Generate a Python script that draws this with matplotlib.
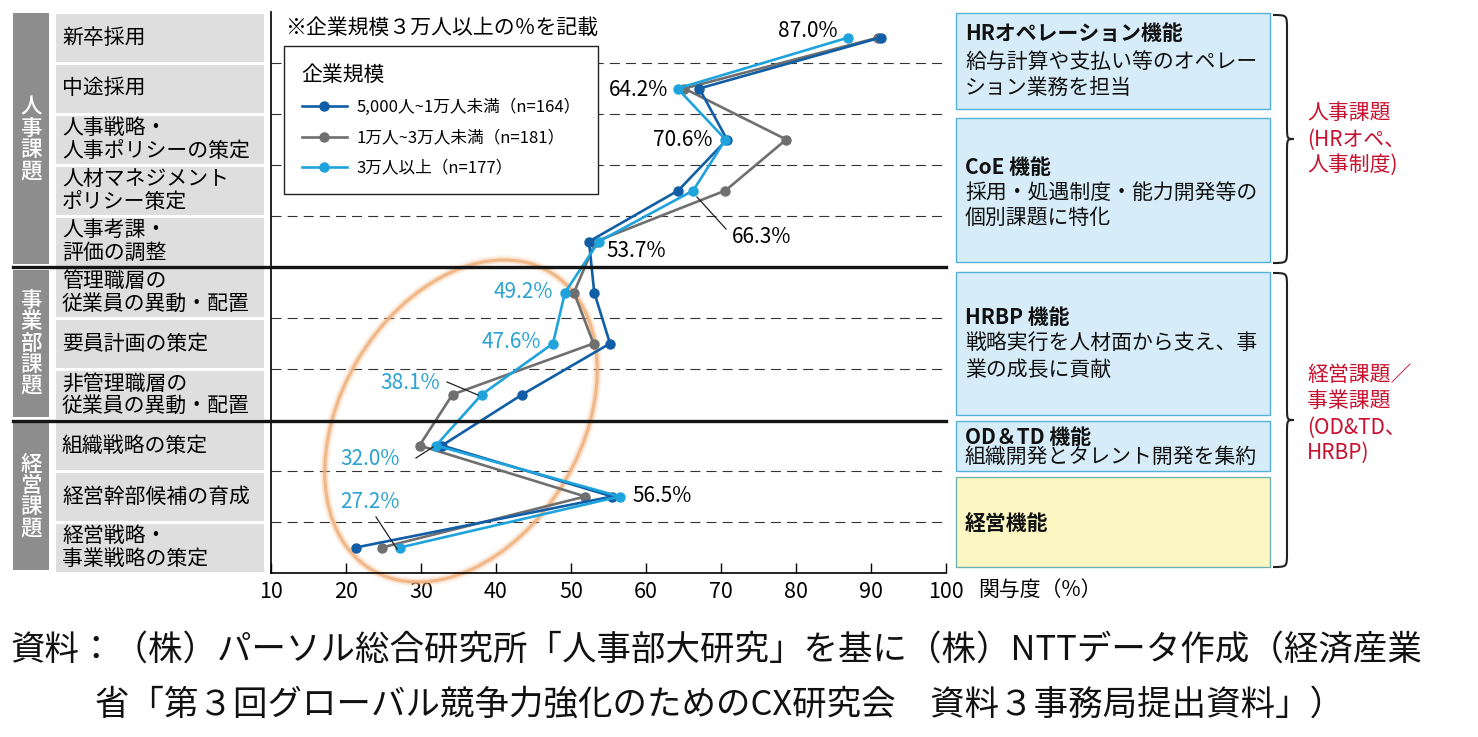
import matplotlib.pyplot as plt
from matplotlib.patches import Rectangle, Ellipse, PathPatch
from matplotlib.path import Path
from matplotlib.lines import Line2D
from matplotlib.transforms import Affine2D

plt.rcParams['font.family'] = ['Noto Sans CJK JP', 'DejaVu Sans']

# =========================
# データ
# =========================
items = ['新卒採用', '中途採用', '人事戦略・\n人事ポリシーの策定', '人材マネジメント\nポリシー策定',
         '人事考課・\n評価の調整', '管理職層の\n従業員の異動・配置', '要員計画の策定',
         '非管理職層の\n従業員の異動・配置', '組織戦略の策定', '経営幹部候補の育成',
         '経営戦略・\n事業戦略の策定']
groups = ['人事課題', '事業部課題', '経営課題']
group_rows = [(0, 5), (5, 8), (8, 11)]

series_names = ['5,000人~1万人未満（n=164）', '1万人~3万人未満（n=181）', '3万人以上（n=177）']
v_small = [91.3, 67.1, 70.8, 64.3, 52.4, 53.1, 55.2, 43.5, 32.8, 55.5, 21.3]
v_mid = [91.0, 65.1, 78.7, 70.6, 53.3, 50.4, 53.0, 34.2, 29.8, 51.9, 24.8]
v_large = [87.0, 64.2, 70.6, 66.3, 53.7, 49.2, 47.6, 38.1, 32.0, 56.5, 27.2]
xticks = [10, 20, 30, 40, 50, 60, 70, 80, 90, 100]

c_dark = '#115ea6'
c_gray = '#6f6f6f'
c_light = '#1fa3dd'
c_lab = '#2aa2d2'
c_red = '#c8102e'

W, H = 1478, 737
fig = plt.figure(figsize=(W / 100, H / 100), dpi=100)
# ピクセル座標（左上原点）
PX = Affine2D().scale(1, -1).translate(0, H).scale(1 / W, 1 / H) + fig.transFigure

ax = fig.add_axes([271 / W, 1 - 573 / H, 675 / W, 561 / H])
ax.set_xlim(10, 100)
ax.set_ylim(11, 0)
rows = [i + 0.5 for i in range(len(items))]

# 区切り線
for b in range(1, 11):
    if b in (5, 8):
        continue
    ax.axhline(b, ls=(0, (9, 5.5)), lw=0.8, color='#333333', zorder=1)
for yy in (266.8, 420.5):
    fig.add_artist(Line2D([13, 946], [yy, yy], transform=PX, color='#151515', lw=2.4))

# 折れ線
ax.plot(v_mid, rows, color=c_gray, lw=1.9, marker='o', ms=6.5, label=series_names[1], zorder=3)
ax.plot(v_small, rows, color=c_dark, lw=1.9, marker='o', ms=6.5, label=series_names[0], zorder=4)
ax.plot(v_large, rows, color=c_light, lw=1.9, marker='o', ms=6.5, label=series_names[2], zorder=5)

# 楕円（強調）
for lw, al in [(7, 0.12), (4.5, 0.28), (2.2, 0.85)]:
    ax.add_patch(Ellipse((461, 421), 347, 240, angle=-59, transform=PX, fill=False,
                         ec='#f0b07a', lw=lw, alpha=al, clip_on=False, zorder=2))

# 軸
for s in ['top', 'right']:
    ax.spines[s].set_visible(False)
ax.spines['left'].set_linewidth(1.2)
ax.spines['bottom'].set_linewidth(1.2)
ax.set_yticks([])
ax.set_xticks(xticks)
ax.tick_params(axis='x', direction='in', length=7, width=1, labelsize=15.5, pad=6)
fig.text(978 / W, 1 - 590 / H, '関与度（%）', fontsize=15, ha='left', va='center')

# 凡例
h, l = ax.get_legend_handles_labels()
order = [1, 0, 2]
leg = ax.legend([h[k] for k in order], [l[k] for k in order], loc='upper left',
                bbox_to_anchor=(13 / 675, (573 - 46) / 561), borderaxespad=0,
                title='企業規模', alignment='left', fontsize=12.0, title_fontsize=15,
                fancybox=False, edgecolor='#222222', framealpha=1, borderpad=1.05,
                handlelength=2.7, handletextpad=0.6, labelspacing=0.8)
leg.get_frame().set_linewidth(1.0)
leg.set_zorder(6)

fig.text(285 / W, 1 - 28 / H, '※企業規模３万人以上の％を記載', fontsize=15, ha='left', va='center')

# 数値ラベル（3万人以上）
def lab(i, x, y, ha, color='black'):
    fig.text(x / W, 1 - y / H, f'{v_large[i]:.1f}%', fontsize=15, ha=ha, va='center', color=color)

lab(0, 838, 31, 'right')
lab(1, 668, 90, 'right')
lab(2, 713, 140, 'right')
lab(3, 732, 237, 'left')
lab(4, 606, 251, 'left')
lab(5, 553, 292, 'right', c_lab)
lab(6, 541, 342, 'right', c_lab)
lab(7, 440, 383, 'right', c_lab)
lab(8, 340, 459, 'left', c_lab)
lab(9, 632, 496, 'left')
lab(10, 340, 502, 'left', c_lab)
for x0, y0, x1, y1 in [(697, 197, 726, 229), (447, 382, 478, 395),
                       (416, 458, 433, 447), (376, 517, 397, 549)]:
    fig.add_artist(Line2D([x0, x1], [y0, y1], transform=PX, color='#222222', lw=0.9))

# 左側ラベル
for i, name in enumerate(items):
    y0 = 12 + 51 * i + 1.5
    fig.add_artist(Rectangle((55.5, y0), 208, 48, transform=PX, fc='#dedede', ec='none'))
    fig.text(62 / W, 1 - (y0 + 24) / H, name, fontsize=15, ha='left', va='center', linespacing=1.02)
for g, (r0, r1) in zip(groups, group_rows):
    top = 12 + 51 * r0 + (1 if r0 == 0 else 3)
    bot = 12 + 51 * r1 - 3
    fig.add_artist(Rectangle((13, top), 36, bot - top, transform=PX, fc='#8d8d8d', ec='none'))
    fig.text(31 / W, 1 - (12 + 51 * (r0 + r1) / 2) / H, '\n'.join(g), fontsize=15.5,
             color='white', ha='center', va='center', linespacing=0.95, fontweight='medium')

# 右側ボックス
boxes = [
    (12.7, 109.3, '#d6edf9', 'HRオペレーション機能', ['給与計算や支払い等のオペレー', 'ション業務を担当'], [34, 62, 88]),
    (118.3, 262.3, '#d6edf9', 'CoE 機能', ['採用・処遇制度・能力開発等の', '個別課題に特化'], [167, 193, 218]),
    (271.7, 415, '#d6edf9', 'HRBP 機能', ['戦略実行を人材面から支え、事', '業の成長に貢献'], [318, 343, 370]),
    (420.7, 471, '#d6edf9', 'OD＆TD 機能', ['組織開発とタレント開発を集約'], [437, 457]),
    (476.7, 567, '#fcf6c3', '経営機能', [], [523]),
]
for y0, y1, fc, title, body, ys in boxes:
    ec = '#55b1d5' if fc == '#d6edf9' else '#6fb3b0'
    fig.add_artist(Rectangle((956, y0), 314, y1 - y0, transform=PX, fc=fc, ec=ec, lw=1.0))
    fig.text(965 / W, 1 - ys[0] / H, title, fontsize=15, fontweight='bold', ha='left', va='center', color='#111111')
    for t, yy in zip(body, ys[1:]):
        fig.text(965 / W, 1 - yy / H, t, fontsize=15, ha='left', va='center', color='#111111')


# 中括弧
def brace(x0, yt, yb, xm, x1, r=14):
    ym = (yt + yb) / 2
    verts = [(x0, yt), (xm, yt), (xm, yt), (xm, yt + r),
             (xm, ym - r),
             (xm, ym), (xm, ym), (x1, ym),
             (xm, ym), (xm, ym), (xm, ym + r),
             (xm, yb - r),
             (xm, yb), (xm, yb), (x0, yb)]
    codes = [Path.MOVETO, Path.CURVE4, Path.CURVE4, Path.CURVE4, Path.LINETO,
             Path.CURVE4, Path.CURVE4, Path.CURVE4, Path.CURVE4, Path.CURVE4, Path.CURVE4,
             Path.LINETO, Path.CURVE4, Path.CURVE4, Path.CURVE4]
    fig.add_artist(PathPatch(Path(verts, codes), transform=PX, fill=False, ec='#222222', lw=1.5))


brace(1273, 15, 263, 1287, 1294)
brace(1273, 273, 567, 1287, 1294)

for t, yy in zip(['人事課題', '(HRオペ、', '人事制度)'], [113, 140, 165]):
    fig.text(1307 / W, 1 - yy / H, t, fontsize=15, color=c_red, ha='left', va='center')
for t, yy in zip(['経営課題／', '事業課題', '(OD&TD、', 'HRBP)'], [375, 401, 428, 453]):
    fig.text(1307 / W, 1 - yy / H, t, fontsize=15, color=c_red, ha='left', va='center')

# 出典
fig.text(10 / W, 1 - 650 / H, '資料：（株）パーソル総合研究所「人事部大研究」を基に（株）NTTデータ作成（経済産業',
         fontsize=24.8, ha='left', va='center', color='#111111')
fig.text(720 / W, 1 - 705 / H, '省「第３回グローバル競争力強化のためのCX研究会　資料３事務局提出資料」）',
         fontsize=24.8, ha='center', va='center', color='#111111')

plt.savefig('out.png', dpi=100)
